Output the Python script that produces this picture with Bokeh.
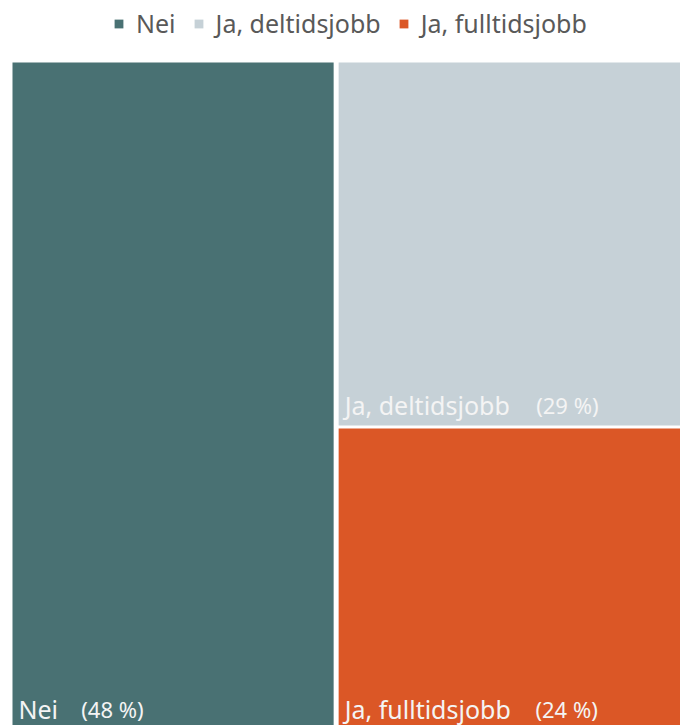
from bokeh.plotting import figure
from bokeh.models import Range1d, Legend, LegendItem, ColumnDataSource
from bokeh.embed import file_html
from bokeh.resources import INLINE
from bokeh.core.properties import value

categories = ["Nei", "Ja, deltidsjobb", "Ja, fulltidsjobb"]
shares = [48, 29, 24]
pct_labels = ["(48 %)", "(29 %)", "(24 %)"]
colors = ["#497173", "#C6D1D7", "#DB5726"]

FONT = "Noto Sans"
NAME_SIZE = 25
PCT_SIZE = 22

# treemap layout (slice first item as column, stack the rest)
W, H = 681.0, 666.0
total = float(sum(shares))
w0 = W * shares[0] / total
rest = total - shares[0]
h1 = H * shares[1] / rest
g = 2.5
lefts = [0, w0 + g, w0 + g]
rights = [w0 - g, W, W]
tops = [0, 0, h1 + 1.5]
bottoms = [H, h1 - 1.5, H]

# approximate text width for placing the percentage after the name
narrow = set("iljtf,. ")
def text_w(s, size):
    w = 0
    for ch in s:
        if ch in narrow:
            w += 0.26
        elif ch.isupper():
            w += 0.70
        else:
            w += 0.55
    return w * size

name_x = [l + 6 for l in lefts]
name_y = [b - 20 for b in bottoms]
pct_x = [x + text_w(n, NAME_SIZE) + 25 for x, n in zip(name_x, categories)]

src = ColumnDataSource(dict(left=lefts, right=rights, top=tops, bottom=bottoms,
                            color=colors, name=categories, pct=pct_labels,
                            nx=name_x, ny=name_y, px=pct_x))

p = figure(width=680, height=725, output_backend="svg", toolbar_location=None,
           x_range=Range1d(-12, 668), y_range=Range1d(663, -62),
           min_border=0, min_border_left=0, min_border_right=0,
           min_border_top=0, min_border_bottom=0)
p.axis.visible = False
p.grid.visible = False
p.outline_line_color = None
p.background_fill_color = "white"

r = p.quad(left="left", right="right", top="top", bottom="bottom",
           fill_color="color", line_color=None, source=src)

p.text(x="nx", y="ny", text="name", source=src, text_font=value(FONT),
       text_font_size=f"{NAME_SIZE}px", text_color="#F4F4F4",
       text_baseline="alphabetic", text_align="left")
p.text(x="px", y="ny", text="pct", source=src, text_font=value(FONT),
       text_font_size=f"{PCT_SIZE}px", text_color="#F4F4F4",
       text_baseline="alphabetic", text_align="left")

items = [LegendItem(label=c, renderers=[r], index=i) for i, c in enumerate(categories)]
legend = Legend(items=items, orientation="horizontal", location=(113, 685),
                label_text_font=FONT, label_text_font_size=f"{NAME_SIZE}px",
                label_text_color="#595959", glyph_width=11, glyph_height=11,
                label_standoff=12, spacing=17, border_line_color=None,
                background_fill_alpha=0, margin=0, padding=0)
p.add_layout(legend, "center")

open("out.html", "w").write(file_html(p, INLINE))
